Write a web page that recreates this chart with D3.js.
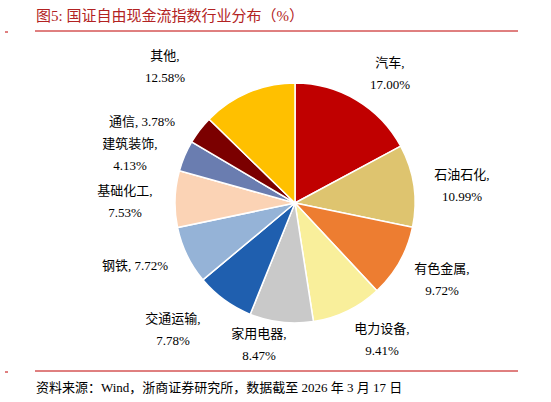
<!DOCTYPE html><html><head><meta charset="utf-8">
<script src="https://cdn.jsdelivr.net/npm/d3@7"></script>
<style>body{margin:0;background:#fff}</style></head><body><svg id="c" width="551" height="402"></svg>
<script>
const categories=["汽车","石油石化","有色金属","电力设备","家用电器","交通运输","钢铁","基础化工","建筑装饰","通信","其他"];
const values=[17.00,10.99,9.72,9.41,8.47,7.78,7.72,7.53,4.13,3.78,12.58];
const colors=["#C00000","#DEC46F","#ED7D31","#F9EF9B","#C9C9C9","#1F5FAF","#95B3D7","#FBD3B5","#6A7DB0","#7B0000","#FFC000"];
// label layout: [x, y, anchor, singleLine]
const labelLayout=[[390,62,"middle",0],[462,174,"middle",0],[442,268,"middle",0],[382,328,"middle",0],[259,333,"middle",0],[173,318,"middle",0],[135,265,"middle",1],[125,190,"middle",0],[130,143,"middle",0],[142,121,"middle",1],[165,55,"middle",0]];
const svg=d3.select("#c");
const font="'Liberation Serif','Noto Sans CJK SC',serif";
svg.append("text").attr("x",36).attr("y",21).attr("fill","#B22222").attr("font-family",font).attr("font-size",15).text("图5:  国证自由现金流指数行业分布（%）");
svg.append("line").attr("x1",35).attr("x2",518).attr("y1",31).attr("y2",31).attr("stroke","#C00000").attr("stroke-width",1);
svg.append("line").attr("x1",5).attr("x2",8).attr("y1",32).attr("y2",32).attr("stroke","#C00000");
svg.append("line").attr("x1",35).attr("x2",518).attr("y1",371).attr("y2",371).attr("stroke","#C00000").attr("stroke-width",1);
svg.append("line").attr("x1",5).attr("x2",8).attr("y1",372).attr("y2",372).attr("stroke","#C00000");
svg.append("text").attr("x",36).attr("y",392).attr("fill","#000").attr("font-family",font).attr("font-size",13).text("资料来源：Wind，浙商证券研究所，数据截至 2026 年 3 月 17 日");
const pie=d3.pie().sort(null).value(d=>d)(values);
const arc=d3.arc().innerRadius(0).outerRadius(120);
const g=svg.append("g").attr("transform","translate(295,203)");
g.selectAll("path").data(pie).join("path").attr("d",arc).attr("fill",(d,i)=>colors[i]).attr("stroke","#fff").attr("stroke-width",1.5);
labelLayout.forEach((l,i)=>{
  const t=svg.append("text").attr("font-family",font).attr("font-size",13).attr("text-anchor",l[2]).attr("fill","#000");
  const pct=values[i].toFixed(2)+"%";
  if(l[3]){t.attr("x",l[0]).attr("y",l[1]+5).text(categories[i]+", "+pct);}
  else{t.append("tspan").attr("x",l[0]).attr("y",l[1]+5).text(categories[i]+",");
       t.append("tspan").attr("x",l[0]).attr("y",l[1]+27).text(pct);}
});
</script></body></html>
